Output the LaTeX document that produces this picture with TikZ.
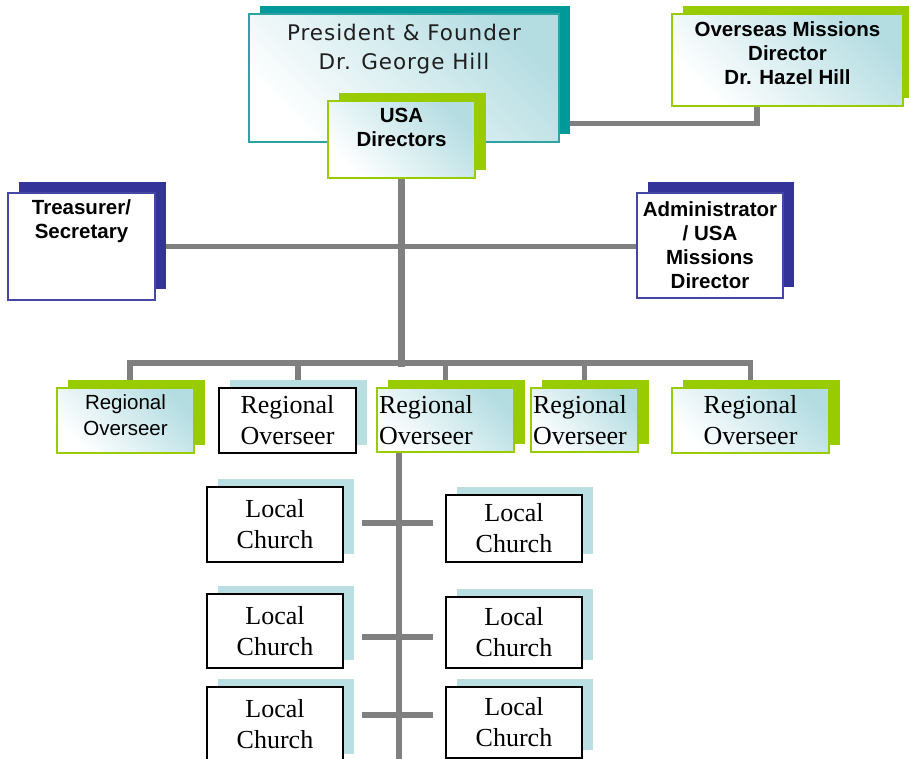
\documentclass[tikz,border=0pt]{standalone}
\usepackage{fontspec}
\setmainfont{Liberation Serif}
\newfontfamily\arialfont{Liberation Sans}
\newfontfamily\verdfont[LetterSpace=4.5]{DejaVu Sans}
\usetikzlibrary{positioning,shadows,backgrounds}
\definecolor{tealdark}{HTML}{009999}
\definecolor{tealline}{HTML}{2EA3A3}
\definecolor{limegreen}{HTML}{99CC00}
\definecolor{navyshadow}{HTML}{333399}
\definecolor{navyline}{HTML}{4646A6}
\definecolor{paleblue}{HTML}{B9DFE3}
\definecolor{gradcyan}{HTML}{B4DDE2}
\definecolor{linkgray}{HTML}{808080}
\tikzset{
link/.style={draw=linkgray,line width=5.5pt},
trunk/.style={draw=linkgray,line width=7pt},
gradfill/.style={top color=gradcyan,bottom color=white,shading angle=-45},
box/.style={rectangle,inner sep=1pt,align=center},
tealbox/.style={box,gradfill,draw=tealline,line width=1.5pt,
  drop shadow={shadow xshift=11pt,shadow yshift=8pt,fill=tealdark,opacity=1}},
greenbox/.style={box,gradfill,draw=limegreen,line width=1.5pt,
  drop shadow={shadow xshift=11pt,shadow yshift=8pt,fill=limegreen,opacity=1}},
navybox/.style={box,fill=white,draw=navyline,line width=1.2pt,
  drop shadow={shadow xshift=11pt,shadow yshift=11pt,fill=navyshadow,opacity=1}},
plainbox/.style={box,fill=white,draw=black,line width=1.5pt,
  drop shadow={shadow xshift=11pt,shadow yshift=8pt,fill=paleblue,opacity=1}},
lighttext/.style={font=\verdfont\fontsize{21.5}{29}\selectfont,text=black!88,align=center},
boldtext/.style={font=\arialfont\bfseries\fontsize{20.5}{24}\selectfont,align=center},
sanstext/.style={font=\arialfont\fontsize{20.5}{26}\selectfont},
seriftext/.style={font=\fontsize{26}{31}\selectfont}}

\begin{document}
\begin{tikzpicture}[x=1pt,y=-1pt]
\useasboundingbox (0,0) rectangle (909,759);
\clip (0,0) rectangle (909,759);

% top
\node[tealbox,minimum width=310pt,minimum height=128pt] (pres) at (404,78) {};
\node[lighttext] (pres text) at ([yshift=-35.5pt]pres.north) {President \& Founder\\Dr. George Hill};
\node[greenbox,minimum width=147pt,minimum height=77pt] (usa) at (401.5,139.5) {};
\node[boldtext] (usa text) at ([yshift=-27pt]usa.north) {USA\\Directors};
\node[greenbox,minimum width=231pt,minimum height=92pt] (over) at (787.5,60) {};
\node[boldtext,yshift=6.5pt] (over text) at (over) {Overseas Missions\\Director\\Dr. Hazel Hill};

% staff
\node[navybox,minimum width=147pt,minimum height=107pt] (tres) at (81.5,246.5) {};
\node[boldtext] (tres text) at ([yshift=-28.5pt]tres.north) {Treasurer/\\Secretary};
\node[navybox,boldtext,minimum width=146pt,minimum height=105pt] (admin) at (710,245.5) {Administrator\\/ USA\\Missions\\Director};

% regional overseers
\node[greenbox,minimum width=137pt,minimum height=65pt] (ro1) at (125.5,420.5) {};
\node[sanstext,align=center] (ro1 text) at ([yshift=5pt]ro1) {Regional\\Overseer};
\node[plainbox,seriftext,minimum width=137pt,minimum height=65pt] (ro2) at (287.5,420.5) {Regional\\Overseer};
\node[greenbox,seriftext,minimum height=64pt,text width=133pt,inner xsep=2pt,align=left] (ro3) at (445.5,420) {Regional\\Overseer};
\node[greenbox,seriftext,minimum height=64pt,text width=103pt,inner xsep=2pt,align=left] (ro4) at (584.5,420) {Regional\\Overseer};
\node[greenbox,seriftext,minimum width=157pt,minimum height=65pt] (ro5) at (750.5,420.5) {Regional\\Overseer};

% local churches
\node[plainbox,seriftext,minimum width=136pt,minimum height=75pt] (lcl1) at (275,524.5) {Local\\Church};
\node[plainbox,seriftext,minimum width=136pt,minimum height=74pt] (lcl2) at (275,631) {Local\\Church};
\node[plainbox,seriftext,minimum width=136pt,minimum height=75pt] (lcl3) at (275,724.5) {Local\\Church};
\node[plainbox,seriftext,minimum width=136pt,minimum height=67pt] (lcr1) at (514,528.5) {Local\\Church};
\node[plainbox,seriftext,minimum width=136pt,minimum height=71pt] (lcr2) at (514,632.5) {Local\\Church};
\node[plainbox,seriftext,minimum width=136pt,minimum height=71pt] (lcr3) at (514,722.5) {Local\\Church};

\coordinate (bus) at (403,363);
\coordinate (trunk end) at (403,367);
\coordinate (spine) at (399,765);
\coordinate (t1) at (399,523);
\coordinate (t2) at (399,637);
\coordinate (t3) at (399,715);

\begin{scope}[on background layer]
\draw[link] ([yshift=19pt]pres.south east) -| ([xshift=-30.5pt]over.south);
\draw[trunk] (usa.south) -- (usa.south |- trunk end);
\draw[link] (tres.east) -- (tres.east -| admin.west);
\draw[link] ([xshift=4.5pt]ro1.north) |- (bus);
\draw[link] (ro5.north) |- (bus);
\foreach \r/\dx in {ro2/10.5pt,ro3/0pt,ro4/0pt}
  \draw[link] ([xshift=\dx]\r.north) -- ([xshift=\dx]\r.north |- bus);
\draw[link] (ro3.south -| spine) -- (spine);
\foreach \t in {t1,t2,t3}
  \draw[link] ([xshift=-37pt]\t) -- ([xshift=34pt]\t);
\end{scope}

\end{tikzpicture}
\end{document}
